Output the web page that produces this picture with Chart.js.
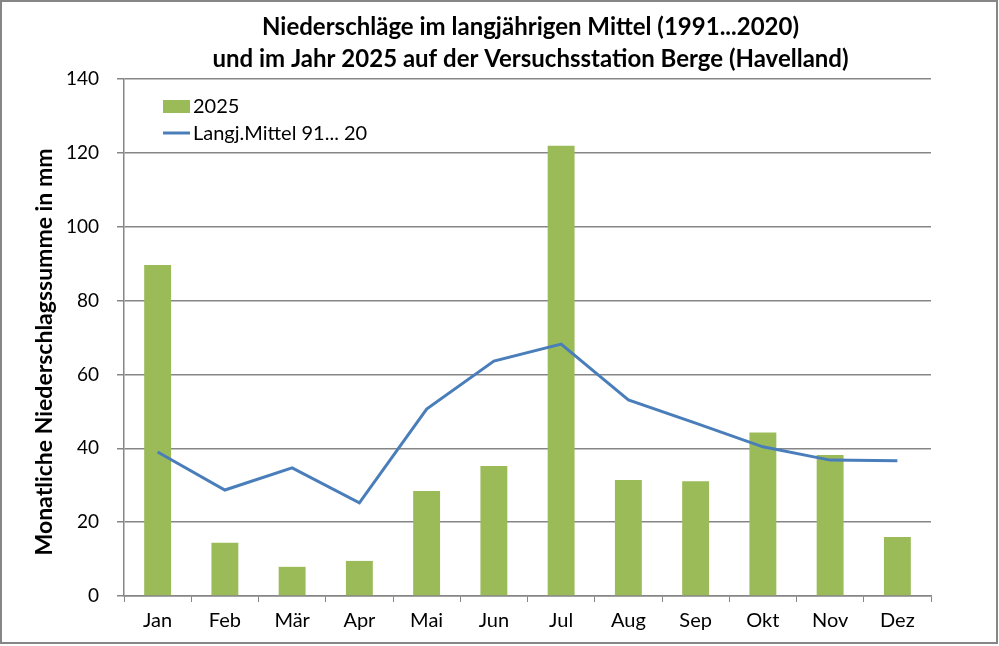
<!DOCTYPE html>
<html>
<head>
<meta charset="utf-8">
<script src="https://cdn.jsdelivr.net/npm/chart.js@4/dist/chart.umd.min.js"></script>
<style>
  html, body { margin: 0; padding: 0; background: #ffffff; }
  #wrap { width: 999px; height: 646px; position: relative; }
</style>
</head>
<body>
<div id="wrap"><canvas id="chart" width="999" height="646"></canvas></div>
<script>
const months = ["Jan", "Feb", "Mär", "Apr", "Mai", "Jun", "Jul", "Aug", "Sep", "Okt", "Nov", "Dez"];
const rain2025 = [89.6, 14.4, 7.9, 9.5, 28.4, 35.2, 121.9, 31.4, 31.1, 44.3, 38.2, 16.0];
const meanRain = [39.0, 28.7, 34.7, 25.2, 50.6, 63.6, 68.2, 53.1, 46.8, 40.4, 36.8, 36.6];
const titleLines = [
  "Niederschläge im langjährigen Mittel (1991...2020)",
  "und im Jahr 2025 auf der Versuchsstation Berge (Havelland)"
];
const yTitle = "Monatliche Niederschlagssumme in mm";

const FONT = "Lato, 'Open Sans', sans-serif";
const GRID = "#868686";

// title, y title, legend inside plot, outer frame
const decorations = {
  id: "decorations",
  afterDraw(chart) {
    const ctx = chart.ctx;
    const area = chart.chartArea;
    ctx.save();

    ctx.fillStyle = "#000000";
    ctx.font = "bold 24px " + FONT;
    ctx.textAlign = "center";
    ctx.textBaseline = "middle";
    const cx = (area.left + area.right) / 2 + 3;
    titleLines.forEach((line, i) => ctx.fillText(line, cx, 27 + i * 32));

    // rotated axis title, sits a little below the plot centre like in Excel
    ctx.save();
    ctx.translate(45, 352);
    ctx.rotate(-Math.PI / 2);
    ctx.font = "bold 23px " + FONT;
    ctx.fillText(yTitle, 0, 0);
    ctx.restore();

    // legend
    const bars = chart.data.datasets[1];
    const line = chart.data.datasets[0];
    ctx.font = "20px " + FONT;
    ctx.textAlign = "left";
    ctx.fillStyle = bars.backgroundColor;
    ctx.fillRect(163, 100, 27, 13);
    ctx.fillStyle = "#000000";
    ctx.fillText(bars.label, 193, 107);
    ctx.strokeStyle = line.borderColor;
    ctx.lineWidth = 3;
    ctx.beginPath();
    ctx.moveTo(163, 133);
    ctx.lineTo(190, 133);
    ctx.stroke();
    ctx.fillText(line.label, 193, 134);

    ctx.strokeStyle = GRID;
    ctx.lineWidth = 2;
    ctx.strokeRect(1, 1, 996, 642);
    ctx.restore();
  }
};

new Chart(document.getElementById("chart"), {
  type: "bar",
  data: {
    labels: months,
    datasets: [
      {
        type: "line",
        label: "Langj.Mittel 91... 20",
        data: meanRain,
        borderColor: "#4a7ebb",
        borderWidth: 3,
        pointRadius: 0,
        tension: 0,
        order: 0
      },
      {
        label: "2025",
        data: rain2025,
        backgroundColor: "#9bbb59",
        barPercentage: 0.8,
        categoryPercentage: 0.5,
        order: 1
      }
    ]
  },
  options: {
    responsive: false,
    animation: false,
    layout: { padding: { top: 79, right: 68, left: 0, bottom: 0 } },
    plugins: {
      legend: { display: false },
      tooltip: { enabled: false }
    },
    scales: {
      x: {
        offset: true,
        grid: {
          offset: true,
          drawOnChartArea: false,
          color: GRID,
          tickLength: 6
        },
        border: { color: GRID, width: 1.5 },
        ticks: { color: "#000000", font: { family: FONT, size: 20 }, padding: 7 },
        afterFit: (scale) => { scale.height = 50; }
      },
      y: {
        min: 0,
        max: 140,
        ticks: { stepSize: 20, color: "#000000", font: { family: FONT, size: 19 }, padding: 18 },
        grid: { color: GRID, lineWidth: 1.5, tickLength: 7 },
        border: { color: GRID, width: 1.5 },
        afterFit: (scale) => { scale.width = 124; }
      }
    }
  },
  plugins: [decorations]
});
</script>
</body>
</html>
